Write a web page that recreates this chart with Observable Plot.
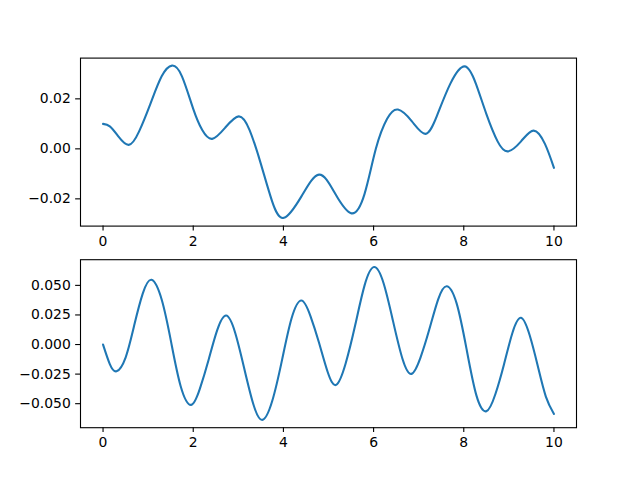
<!DOCTYPE html>
<html>
<head>
<meta charset="utf-8">
<script src="https://cdn.jsdelivr.net/npm/d3@7"></script>
<script src="https://cdn.jsdelivr.net/npm/@observablehq/plot@0.6"></script>
<style>
  html, body { margin: 0; padding: 0; background: #fff; }
  #chart svg { display: block; }
</style>
</head>
<body>
<div id="chart"></div>
<script>
// Top panel series
const topX = [0, 0.15, 0.33, 0.57, 0.8, 1.05, 1.3, 1.53, 1.75, 2.0, 2.2, 2.42, 2.71, 3.01, 3.25, 3.5, 3.75, 4.01, 4.4, 4.79, 5.15, 5.51, 5.8, 6.05, 6.3, 6.54, 6.85, 7.15, 7.4, 7.7, 8.02, 8.27, 8.5, 8.75, 8.98, 9.27, 9.55, 9.8, 10];
const topY = [0.0100, 0.0090, 0.0052, 0.0016, 0.0070, 0.0180, 0.0290, 0.0333, 0.0290, 0.0160, 0.0075, 0.0040, 0.0085, 0.0130, 0.0075, -0.0060, -0.0210, -0.0276, -0.0190, -0.0103, -0.0180, -0.0258, -0.0180, 0.0000, 0.0120, 0.0157, 0.0110, 0.0060, 0.0130, 0.0260, 0.0330, 0.0260, 0.0140, 0.0030, -0.0010, 0.0030, 0.0073, 0.0020, -0.0076];

// Bottom panel series
const botX = [0, 0.15, 0.30, 0.5, 0.69, 0.88, 1.075, 1.3, 1.51, 1.72, 1.95, 2.15, 2.34, 2.53, 2.73, 2.93, 3.13, 3.33, 3.53, 3.75, 3.97, 4.18, 4.40, 4.6, 4.79, 4.98, 5.17, 5.38, 5.59, 5.8, 6.01, 6.22, 6.43, 6.64, 6.84, 7.04, 7.23, 7.43, 7.62, 7.84, 8.06, 8.28, 8.50, 8.7, 8.89, 9.08, 9.27, 9.46, 9.64, 9.82, 10];
const botY = [0.0, -0.0165, -0.0226, -0.0110, 0.0160, 0.0430, 0.0547, 0.0380, 0.0020, -0.0350, -0.0510, -0.0370, -0.0130, 0.0120, 0.0245, 0.0100, -0.0200, -0.0500, -0.0637, -0.0480, -0.0130, 0.0220, 0.0372, 0.0240, 0.0015, -0.0230, -0.0341, -0.0160, 0.0160, 0.0500, 0.0655, 0.0520, 0.0200, -0.0120, -0.0248, -0.0110, 0.0120, 0.0380, 0.0493, 0.0350, -0.0035, -0.0430, -0.0564, -0.0420, -0.0170, 0.0100, 0.0226, 0.0080, -0.0180, -0.0440, -0.0587];

// Tick labels
const xTicks = [0, 2, 4, 6, 8, 10];
const topTicks = [-0.02, 0, 0.02];
const botTicks = [-0.05, -0.025, 0, 0.025, 0.05];

const topData = topX.map((x, i) => ({x, y: topY[i]}));
const botData = botX.map((x, i) => ({x, y: botY[i]}));

const FONT = "DejaVu Sans, sans-serif";
const FS = 13.9;
const TICK = 4.86;
const PAD = 4.86;
const minus = s => s.replace("-", "\u2212");

function panel(data, yDomain, yTicks, yFmt, height, mTop, mBottom) {
  return Plot.plot({
    width: 640,
    height,
    marginLeft: 80,
    marginRight: 64,
    marginTop: mTop,
    marginBottom: mBottom,
    style: {fontFamily: FONT, fontSize: FS + "px", color: "black", background: "white", overflow: "visible"},
    x: {domain: [-0.5, 10.5]},
    y: {domain: yDomain},
    marks: [
      Plot.line(data, {x: "x", y: "y", stroke: "#1f77b4", strokeWidth: 2.08, curve: "natural"}),
      Plot.axisX({ticks: xTicks, tickSize: TICK, tickPadding: PAD, tickFormat: d => minus(String(d)), label: null, fontSize: FS, strokeWidth: 1.1}),
      Plot.axisY({ticks: yTicks, tickSize: TICK, tickPadding: PAD, tickFormat: yFmt, label: null, fontSize: FS, strokeWidth: 1.1}),
      Plot.frame({stroke: "black", strokeWidth: 1.1})
    ]
  });
}

const chart = document.getElementById("chart");
chart.appendChild(panel(topData, [-0.0309, 0.0363], topTicks, d => minus(d3.format(".2f")(d)), 250, 57.6, 24.4));
chart.appendChild(panel(botData, [-0.0703, 0.0717], botTicks, d => minus(d3.format(".3f")(d)), 230, 9.2, 52.8));
</script>
</body>
</html>
